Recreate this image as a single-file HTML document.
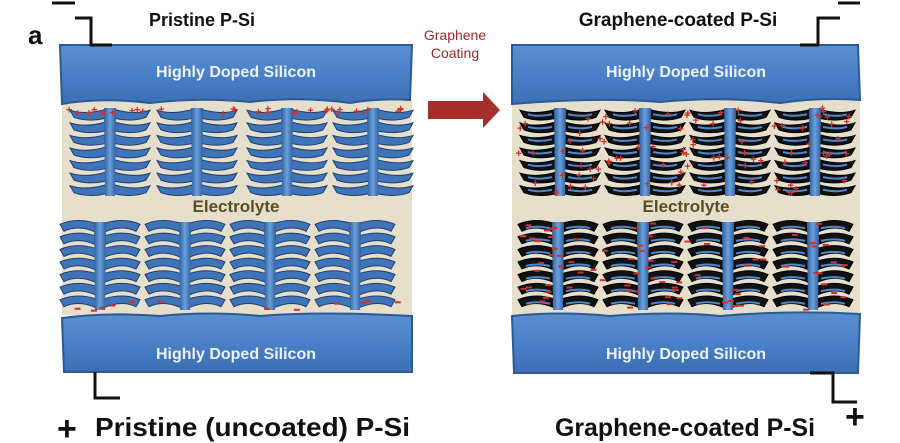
<!DOCTYPE html>
<html><head><meta charset="utf-8"><style>
html,body{margin:0;padding:0;background:#fff;width:900px;height:443px;overflow:hidden}
svg{display:block}
text{font-family:"Liberation Sans",sans-serif;font-weight:bold}
</style></head><body>
<svg id="s" width="900" height="443" viewBox="0 0 900 443" xmlns="http://www.w3.org/2000/svg">
<defs>
<linearGradient id="slab" x1="0" y1="0" x2="0" y2="1">
<stop offset="0" stop-color="#5a8fd0"/><stop offset="0.5" stop-color="#4a80c8"/><stop offset="1" stop-color="#3a6fb5"/></linearGradient>
<linearGradient id="trunk" x1="0" y1="0" x2="1" y2="0">
<stop offset="0" stop-color="#2e5f9e"/><stop offset="0.5" stop-color="#6aa0dc"/><stop offset="1" stop-color="#2e5f9e"/></linearGradient>
</defs>
<rect x="62" y="100" width="350" height="215" fill="#e5dfcc"/>
<rect x="512" y="100" width="348" height="215" fill="#e5dfcc"/>
<g id="trees"></g>
<path d="M60,45 L412,45 L410,100 Q380,98 350,103 Q300,96 250,102 Q200,97 150,103 Q100,97 62,104 Z" fill="url(#slab)" stroke="#2d5a94" stroke-width="2"/>
<path d="M62,318 Q110,312 160,316 Q210,311 260,316 Q320,311 412,316 L412,372 L64,372 Z" fill="url(#slab)" stroke="#2d5a94" stroke-width="2"/>
<path d="M512,45 L858,45 L860,100 Q820,97 780,103 Q720,96 660,102 Q600,97 512,104 Z" fill="url(#slab)" stroke="#2d5a94" stroke-width="2"/>
<path d="M512,316 Q560,311 610,316 Q670,311 720,316 Q790,310 860,314 L858,373 L514,373 Z" fill="url(#slab)" stroke="#2d5a94" stroke-width="2"/>
<text x="236" y="77" font-size="16" fill="#eef3fa" text-anchor="middle">Highly Doped Silicon</text>
<text x="236" y="359" font-size="16" fill="#eef3fa" text-anchor="middle">Highly Doped Silicon</text>
<text x="686" y="77" font-size="16" fill="#eef3fa" text-anchor="middle">Highly Doped Silicon</text>
<text x="686" y="359" font-size="16" fill="#eef3fa" text-anchor="middle">Highly Doped Silicon</text>
<text x="236" y="212" font-size="17" fill="#5a4d22" text-anchor="middle">Electrolyte</text>
<text x="686" y="212" font-size="17" fill="#5a4d22" text-anchor="middle">Electrolyte</text>
<text x="28" y="44" font-size="26" fill="#111">a</text>
<text x="202" y="26" font-size="18" fill="#111" text-anchor="middle">Pristine P-Si</text>
<text x="678" y="26" font-size="19" fill="#111" text-anchor="middle">Graphene-coated P-Si</text>
<text x="455" y="40" font-size="14" fill="#9b2a2a" text-anchor="middle" style="font-weight:normal">Graphene</text>
<text x="455" y="58" font-size="14" fill="#9b2a2a" text-anchor="middle" style="font-weight:normal">Coating</text>
<path d="M428,101 L483,101 L483,92 L500,110 L483,128 L483,119 L428,119 Z" fill="#a52f2a"/>
<text x="95" y="436" font-size="26" fill="#111" textLength="315" lengthAdjust="spacingAndGlyphs">Pristine (uncoated) P-Si</text>
<text x="555" y="436" font-size="25" fill="#111" textLength="260" lengthAdjust="spacingAndGlyphs">Graphene-coated P-Si</text>
<text x="57" y="440" font-size="34" fill="#111">+</text>
<text x="845" y="428" font-size="34" fill="#111">+</text>
<g stroke="#111" stroke-width="3" fill="none">
<path d="M52,3 L75,3"/>
<path d="M75,18 L91,18 L91,45 L112,45"/>
<path d="M838,3 L860,3"/>
<path d="M800,45 L818,45 L818,18 L840,18"/>
<path d="M95,372 L95,398 L120,398"/>
<path d="M810,373 L833,373 L833,402 L857,402"/>
</g>
</svg>
<script>
var g=document.getElementById('trees'),h='';
function tree(cx,y0,y1,up,coated){
 var fill=coated?'#111':'#3f74b8',st=coated?'#000':'#1f3f6e';
 var n=7,step=(y1-y0)/n;
 for(var i=0;i<n;i++){
  var y=y0+step*(i+0.5);
  [-1,1].forEach(function(d){
   var x0=cx+d*4,x1=cx+d*40,c=up?-6:6;
   h+='<path d="M'+x0+','+(y-5)+' Q'+(cx+d*24)+','+(y-5+c)+' '+x1+','+(y-4)+' L'+(x1-d*4)+','+(y+3)+' Q'+(cx+d*22)+','+(y+c+2)+' '+x0+','+(y+4)+' Z" fill="'+fill+'" stroke="'+st+'" stroke-width="1"/>';
   if(coated){h+='<path d="M'+(cx+d*8)+','+y+' Q'+(cx+d*22)+','+(y+c/2)+' '+(cx+d*32)+','+y+'" stroke="#4f86cc" stroke-width="2" fill="none"/>';}
  });
 }
 h+='<path d="M'+(cx-6)+','+y0+' L'+(cx+6)+','+y0+' L'+(cx+5)+','+y1+' L'+(cx-5)+','+y1+' Z" fill="url(#trunk)"/>';
}
[110,197,287,373].forEach(function(x){tree(x,108,196,false,false)});
[100,185,270,355].forEach(function(x){tree(x,222,310,true,false)});
[560,645,730,815].forEach(function(x){tree(x,108,196,false,true)});
[558,643,728,813].forEach(function(x){tree(x,222,310,true,true)});
function rnd(s){var x=Math.sin(s)*10000;return x-Math.floor(x);}
for(var i=0;i<30;i++){var x=66+rnd(i)*340;h+='<text x="'+x+'" y="'+(112+rnd(i+50)*6)+'" font-size="11" fill="#d0302a">+</text>';}
for(var i=0;i<12;i++){var x=66+rnd(i+7)*340;h+='<rect x="'+x+'" y="'+(300+rnd(i+9)*10)+'" width="6" height="2" fill="#d0302a"/>';}
for(var i=0;i<90;i++){var x=515+rnd(i+100)*340;h+='<text x="'+x+'" y="'+(112+rnd(i+200)*85)+'" font-size="11" fill="#d0302a">+</text>';}
for(var i=0;i<80;i++){var x=515+rnd(i+300)*340;h+='<rect x="'+x+'" y="'+(222+rnd(i+400)*92)+'" width="6" height="2" fill="#d0302a"/>';}
g.innerHTML=h;
</script>
</body></html>
